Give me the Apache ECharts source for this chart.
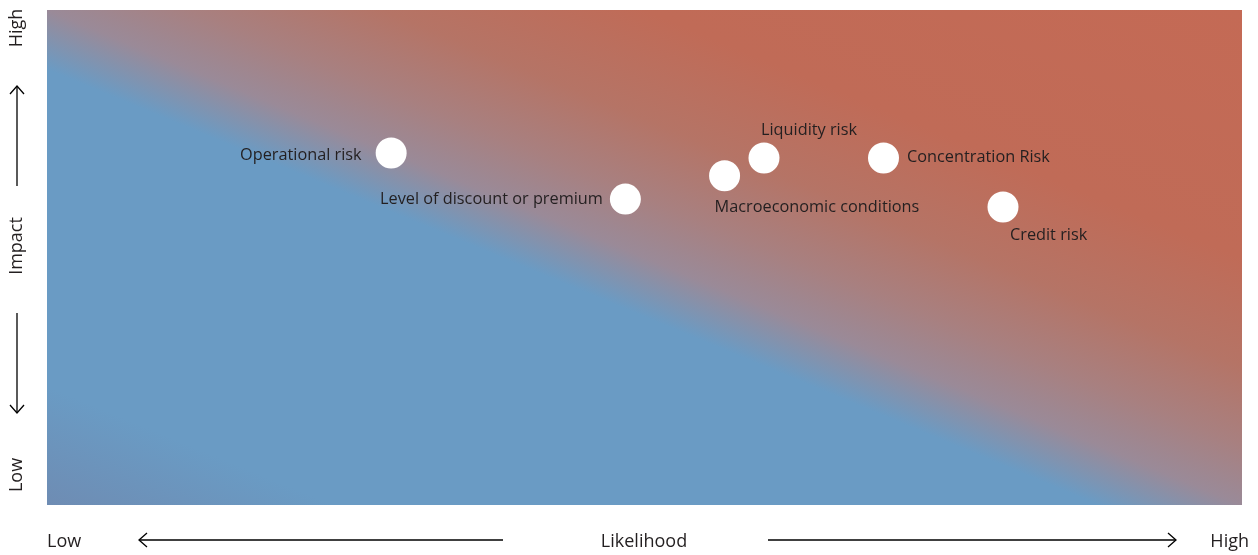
<!DOCTYPE html>
<html>
<head>
<meta charset="utf-8">
<title>Risk matrix</title>
<script src="https://cdn.jsdelivr.net/npm/echarts@6/dist/echarts.min.js"></script>
<style>
  html, body { margin: 0; padding: 0; background: #ffffff; }
  #chart { width: 1258px; height: 555px; }
</style>
</head>
<body>
<div id="chart"></div>
<script>
// Risks plotted by likelihood (x) and impact (y), both on a 0–10 scale
const riskNames = [
  'Operational risk',
  'Level of discount or premium',
  'Macroeconomic conditions',
  'Liquidity risk',
  'Concentration Risk',
  'Credit risk'
];
const likelihood = [2.88, 4.84, 5.67, 6.0, 7.0, 8.0];
const impact = [7.11, 6.18, 6.65, 7.01, 7.01, 6.02];

// Axis captions
const xAxisLabels = ['Low', 'Likelihood', 'High'];
const yAxisLabels = ['Low', 'Impact', 'High'];

// Label placement for each risk marker (relative to the 31px symbol box)
const labelPlacement = [
  { position: 'left', distance: 14, offset: [0, 2] },
  { position: 'left', distance: 7, offset: [0, 0] },
  { position: [5.5, 47.5], align: 'left', verticalAlign: 'middle' },
  { position: [12.5, -12.5], align: 'left', verticalAlign: 'middle' },
  { position: 'right', distance: 8, offset: [0, -1] },
  { position: [22.5, 43.5], align: 'left', verticalAlign: 'middle' }
];

const FONT = '"Open Sans", "Noto Sans", sans-serif';
const TEXT = '#231f20';

const W = 1258, H = 555;
const grid = { left: 47, right: 16, top: 10, bottom: 50 };
const gx0 = grid.left, gx1 = W - grid.right, gy0 = grid.top, gy1 = H - grid.bottom;

// Diagonal blue→red wash whose bands run parallel to the top-left/bottom-right diagonal
const cx = (gx0 + gx1) / 2, cy = (gy0 + gy1) / 2;
const dx = gx1 - gx0, dy = gy1 - gy0;
const len = Math.hypot(dx, dy);
const nx = dy / len, ny = -dx / len;
const half = (dx / 2) * nx + (-dy / 2) * ny;
const wash = {
  type: 'linear',
  x: cx - nx * half, y: cy - ny * half,
  x2: cx + nx * half, y2: cy + ny * half,
  global: true,
  colorStops: [
    { offset: 0.00, color: '#6e8cb3' },
    { offset: 0.12, color: '#6a9bc4' },
    { offset: 0.44, color: '#6a9bc4' },
    { offset: 0.50, color: '#9a8a98' },
    { offset: 0.56, color: '#a88080' },
    { offset: 0.64, color: '#b57466' },
    { offset: 0.75, color: '#c06b57' },
    { offset: 1.00, color: '#c46a55' }
  ]
};

const points = riskNames.map((name, i) => ({
  name: name,
  value: [likelihood[i], impact[i]],
  label: Object.assign({ show: true, formatter: '{b}' }, labelPlacement[i])
}));

// Arrow helpers for the axis captions
function hArrow(x1, x2, y, headAtStart) {
  const tip = headAtStart ? x1 : x2;
  const back = headAtStart ? tip + 8 : tip - 8;
  return [
    { type: 'line', shape: { x1: x1, y1: y, x2: x2, y2: y }, style: { stroke: '#000', lineWidth: 1.3 } },
    { type: 'polyline', shape: { points: [[back, y - 7], [tip, y], [back, y + 7]] }, style: { stroke: '#000', lineWidth: 1.3, fill: null } }
  ];
}
function vArrow(x, y1, y2, headAtStart) {
  const tip = headAtStart ? y1 : y2;
  const back = headAtStart ? tip + 8 : tip - 8;
  return [
    { type: 'line', shape: { x1: x, y1: y1, x2: x, y2: y2 }, style: { stroke: '#000', lineWidth: 1.3 } },
    { type: 'polyline', shape: { points: [[x - 7, back], [x, tip], [x + 7, back]] }, style: { stroke: '#000', lineWidth: 1.3, fill: null } }
  ];
}
function capText(text, x, y, align, rotate) {
  return {
    type: 'text', x: x, y: y, rotation: rotate ? Math.PI / 2 : 0,
    style: { text: text, fill: TEXT, font: '18px ' + FONT, align: align, verticalAlign: 'middle' }
  };
}

const axisY = 542, axisX = 17;
const graphics = []
  .concat([
    capText(xAxisLabels[0], 47, axisY, 'left', false),
    capText(xAxisLabels[1], 644, axisY, 'center', false),
    capText(xAxisLabels[2], 1249, axisY, 'right', false),
    capText(yAxisLabels[0], axisX, 475, 'center', true),
    capText(yAxisLabels[1], axisX, 246, 'center', true),
    capText(yAxisLabels[2], axisX, 28, 'center', true)
  ])
  .concat(hArrow(139, 503, 540, true))
  .concat(hArrow(768, 1176, 540, false))
  .concat(vArrow(axisX, 86, 186, true))
  .concat(vArrow(axisX, 313, 413, false));

const chart = echarts.init(document.getElementById('chart'), null, { renderer: 'canvas' });
chart.setOption({
  animation: false,
  backgroundColor: '#ffffff',
  grid: Object.assign({ show: true, borderWidth: 0, backgroundColor: wash }, grid),
  xAxis: { type: 'value', min: 0, max: 10, show: false },
  yAxis: { type: 'value', min: 0, max: 10, show: false },
  series: [{
    type: 'scatter',
    symbol: 'circle',
    symbolSize: 31,
    itemStyle: { color: '#ffffff', opacity: 1 },
    label: { color: TEXT, fontFamily: FONT, fontSize: 16.3 },
    data: points
  }],
  graphic: graphics
});
</script>
</body>
</html>
